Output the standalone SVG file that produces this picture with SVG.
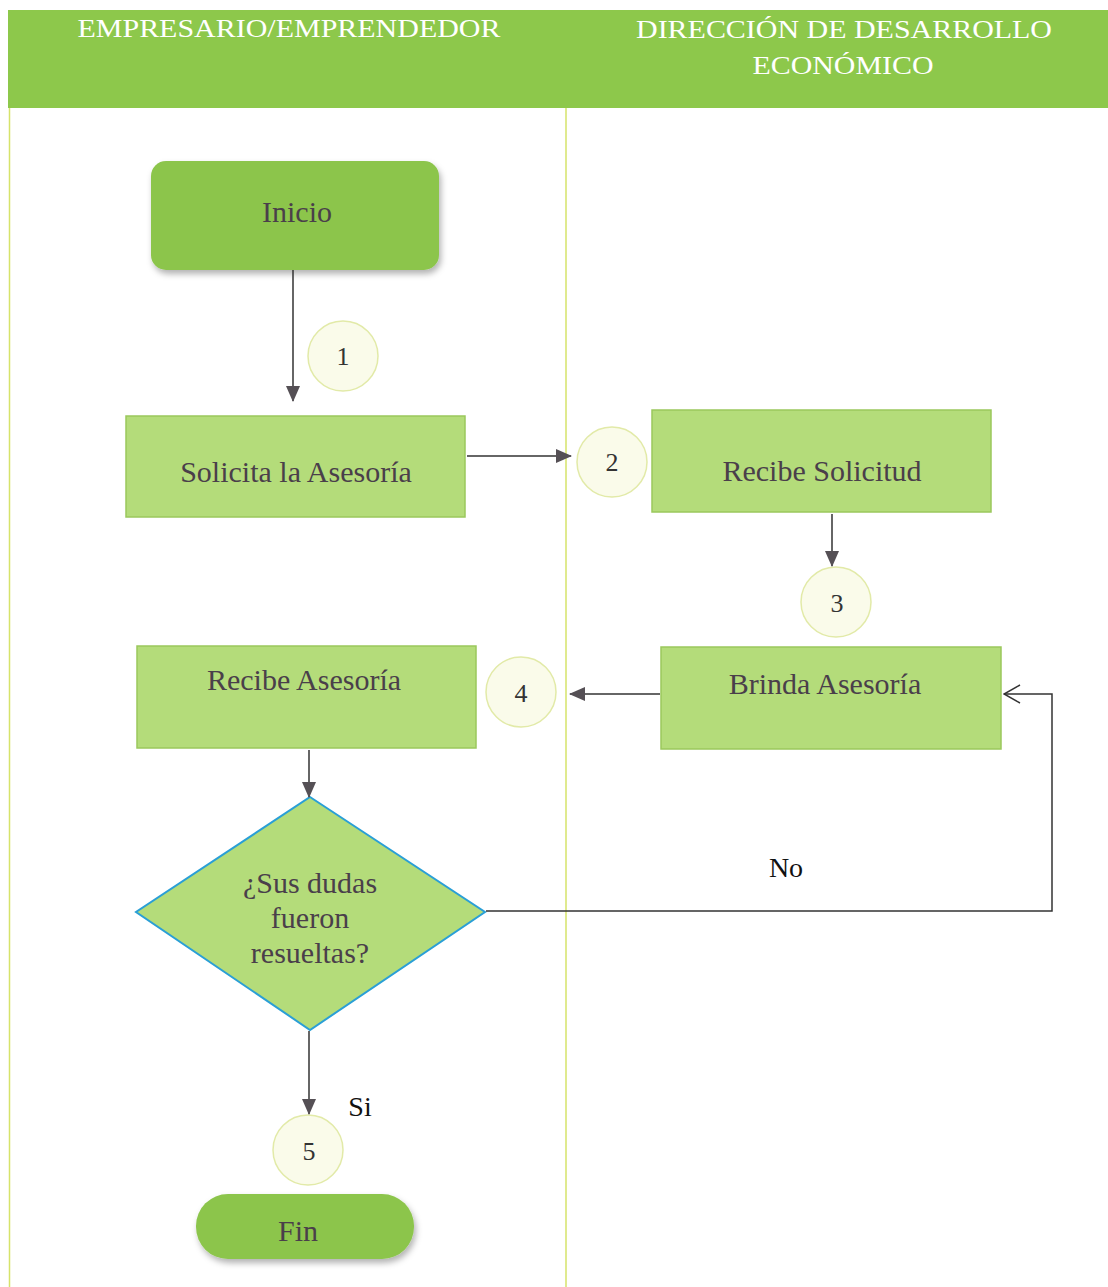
<svg xmlns="http://www.w3.org/2000/svg" width="1108" height="1287" viewBox="0 0 1108 1287">
<style>
.hdr{font-family:"Liberation Serif",serif;font-size:26px;fill:#ffffff;text-anchor:middle}
.lbl{font-family:"Liberation Serif",serif;font-size:30px;fill:#4a3f4a;text-anchor:middle}
.num{font-family:"Liberation Serif",serif;font-size:26px;fill:#333333;text-anchor:middle}
.txt{font-family:"Liberation Serif",serif;font-size:28px;fill:#111111;text-anchor:middle}
.term{fill:#8cc54c}
.proc{fill:#b4dc7a;stroke:#9bc85c;stroke-width:1.5}
.circ{fill:#fafbea;stroke:#e2eaa8;stroke-width:1.5}
.lane{stroke:#d6e36a;stroke-width:1.5;fill:none}
.conn{stroke:#333333;stroke-width:1.5;fill:none}
</style>
<defs>
<marker id="tri" markerWidth="16" markerHeight="14" refX="15" refY="7" orient="auto" markerUnits="userSpaceOnUse" viewBox="0 0 16 14">
<path d="M0,0 L16,7 L0,14 Z" fill="#555055"/>
</marker>
<marker id="open" markerWidth="18" markerHeight="20" refX="17" refY="10" orient="auto" markerUnits="userSpaceOnUse" viewBox="0 0 18 20">
<path d="M1,1 L17,10 L1,19" fill="none" stroke="#333" stroke-width="1.5"/>
</marker>
<filter id="sh" x="-10%" y="-10%" width="125%" height="135%">
<feDropShadow dx="2" dy="4" stdDeviation="3" flood-color="#000" flood-opacity="0.3"/>
</filter>
</defs>
<rect width="1108" height="1287" fill="#ffffff"/>
<g id="lanes">
<rect x="8" y="10" width="1100" height="98" fill="#8dc84b"/>
<line class="lane" x1="9.5" y1="108" x2="9.5" y2="1287"/>
<line class="lane" x1="566" y1="108" x2="566" y2="1287"/>
<text class="hdr" x="289" y="37" textLength="423" lengthAdjust="spacingAndGlyphs">EMPRESARIO/EMPRENDEDOR</text>
<text class="hdr" x="844" y="38" textLength="416" lengthAdjust="spacingAndGlyphs">DIRECCIÓN DE DESARROLLO</text>
<text class="hdr" x="843" y="74" textLength="181" lengthAdjust="spacingAndGlyphs">ECONÓMICO</text>
</g>
<g id="inicio">
<rect class="term" x="151" y="161" width="288" height="109" rx="15" filter="url(#sh)"/>
<text class="lbl" x="297" y="222">Inicio</text>
</g>
<g id="c1"><circle class="circ" cx="343" cy="356" r="35"/><text class="num" x="343" y="365">1</text></g>
<g id="solicita">
<rect class="proc" x="126" y="416" width="339" height="101"/>
<text class="lbl" x="296" y="482">Solicita la Asesoría</text>
</g>
<g id="c2"><circle class="circ" cx="612" cy="462" r="35"/><text class="num" x="612" y="471">2</text></g>
<g id="recibe-solicitud">
<rect class="proc" x="652" y="410" width="339" height="102"/>
<text class="lbl" x="822" y="481">Recibe Solicitud</text>
</g>
<g id="c3"><circle class="circ" cx="836" cy="602" r="35"/><text class="num" x="837" y="612">3</text></g>
<g id="brinda">
<rect class="proc" x="661" y="647" width="340" height="102"/>
<text class="lbl" x="825" y="694">Brinda Asesoría</text>
</g>
<g id="c4"><circle class="circ" cx="521" cy="692" r="35"/><text class="num" x="521" y="702">4</text></g>
<g id="recibe-asesoria">
<rect class="proc" x="137" y="646" width="339" height="102"/>
<text class="lbl" x="304" y="690">Recibe Asesoría</text>
</g>
<g id="decision">
<polygon points="310,797 485,912 310,1030 136,912" fill="#b4dc7a" stroke="#2a9fd6" stroke-width="2"/>
<text class="lbl" x="310" y="893">¿Sus dudas</text>
<text class="lbl" x="310" y="928">fueron</text>
<text class="lbl" x="310" y="963">resueltas?</text>
</g>
<g id="c5"><circle class="circ" cx="308" cy="1150" r="35"/><text class="num" x="309" y="1160">5</text></g>
<g id="fin">
<rect class="term" x="196" y="1194" width="218" height="65" rx="32" filter="url(#sh)"/>
<text class="lbl" x="298" y="1241">Fin</text>
</g>
<g id="connectors">
<line class="conn" x1="293" y1="270" x2="293" y2="401" marker-end="url(#tri)"/>
<line class="conn" x1="467" y1="456" x2="571" y2="456" marker-end="url(#tri)"/>
<line class="conn" x1="832" y1="514" x2="832" y2="566" marker-end="url(#tri)"/>
<line class="conn" x1="660" y1="694" x2="570" y2="694" marker-end="url(#tri)"/>
<line class="conn" x1="309" y1="750" x2="309" y2="797" marker-end="url(#tri)"/>
<polyline class="conn" points="486,911 1052,911 1052,694 1004,694" marker-end="url(#open)"/>
<line class="conn" x1="309" y1="1031" x2="309" y2="1114" marker-end="url(#tri)"/>
<text class="txt" x="786" y="877">No</text>
<text class="txt" x="360" y="1116">Si</text>
</g>
</svg>
